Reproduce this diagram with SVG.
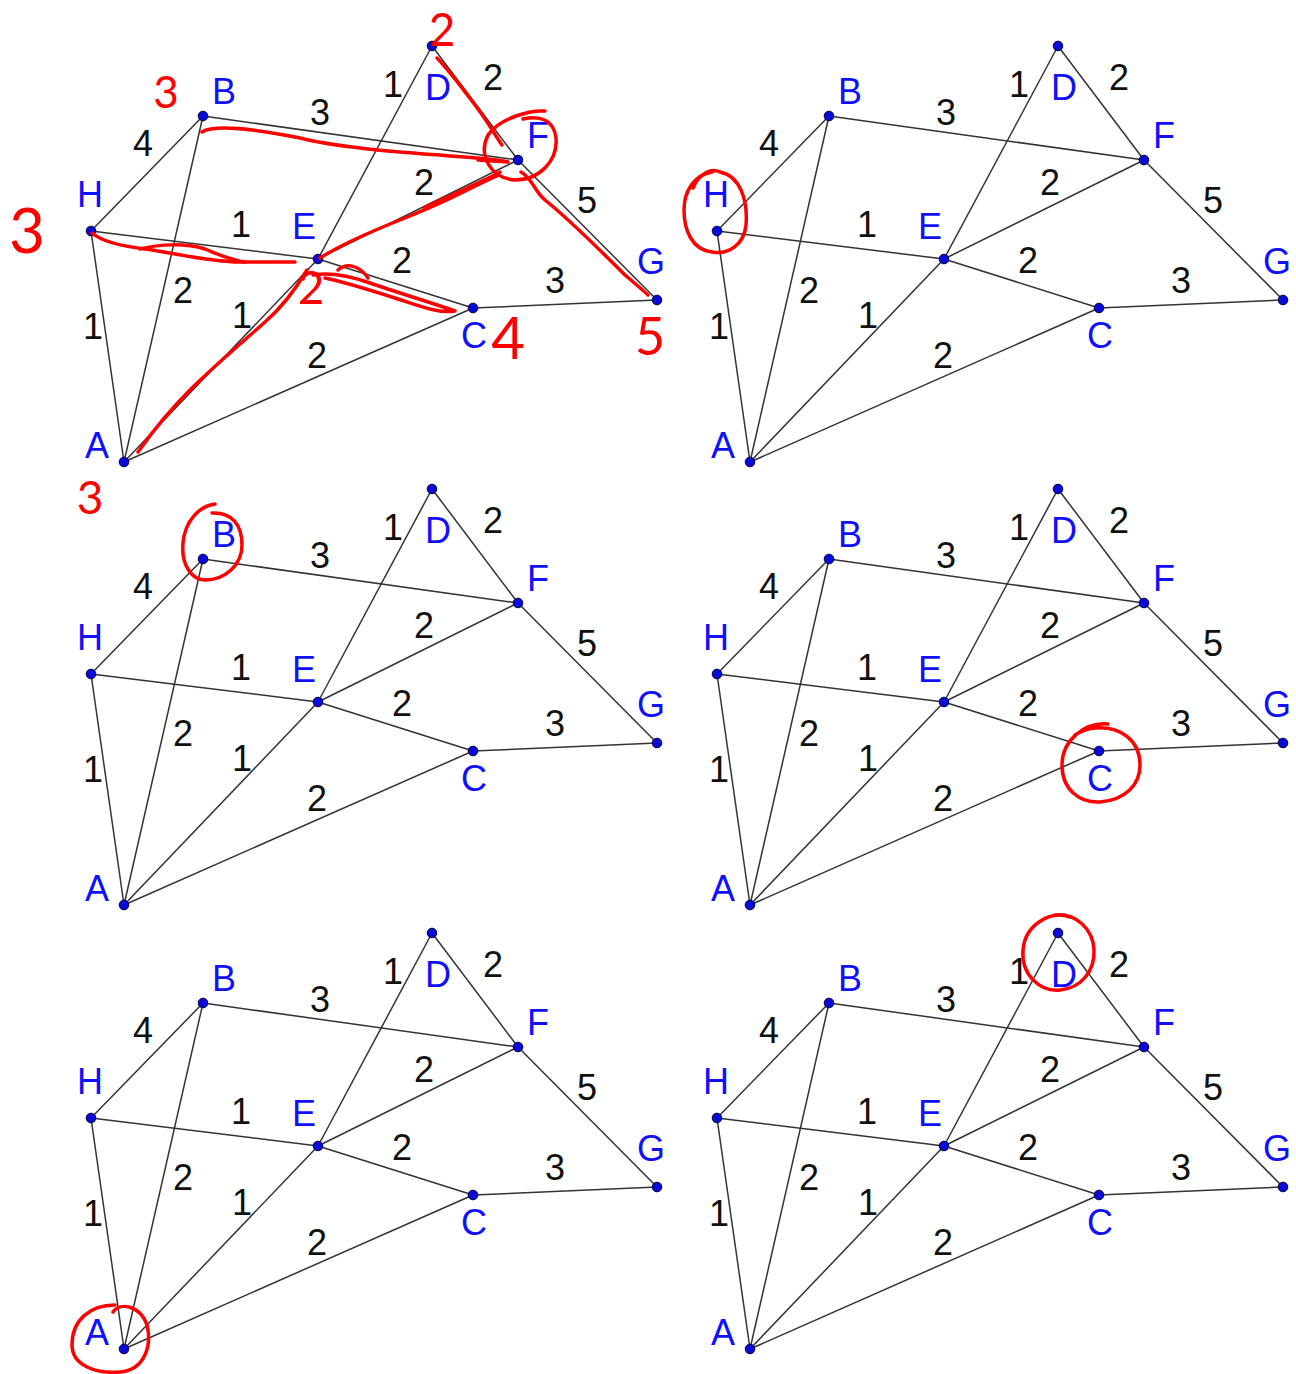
<svg xmlns="http://www.w3.org/2000/svg" width="1296" height="1374" viewBox="0 0 1296 1374">
<style>
.e line{stroke:#333;stroke-width:1.5;fill:none}
.w{font-family:"Liberation Sans",Arial,sans-serif;font-size:36px;fill:#111;text-anchor:middle}
.n circle{fill:#0a0ad8;stroke:#000040;stroke-width:1}
.n text{font-family:"Liberation Sans",Arial,sans-serif;font-size:36px;fill:#1010ff;text-anchor:middle}
.r path{stroke:#f00;stroke-width:3.5;fill:none;stroke-linecap:round;stroke-linejoin:round}
.rt{font-family:Lato,"Open Sans","Liberation Sans",sans-serif;font-weight:400;fill:#f00;text-anchor:middle}
</style>
<rect width="1296" height="1374" fill="#fff"/>

<g id="panel1" transform="translate(0,0)">
<g id="p1-connectors" class="e">
<line x1="91" y1="231" x2="203" y2="116"/><line x1="203" y1="116" x2="518" y2="160"/><line x1="203" y1="116" x2="124" y2="462"/><line x1="91" y1="231" x2="318" y2="259"/><line x1="91" y1="231" x2="124" y2="462"/><line x1="432" y1="46" x2="318" y2="259"/><line x1="318" y1="259" x2="124" y2="462"/><line x1="432" y1="46" x2="518" y2="160"/><line x1="318" y1="259" x2="518" y2="160"/><line x1="318" y1="259" x2="473" y2="308"/><line x1="473" y1="308" x2="657" y2="300"/><line x1="518" y1="160" x2="657" y2="300"/><line x1="124" y1="462" x2="473" y2="308"/>
</g>
<g id="p1-weights"><text class="w" x="143" y="156">4</text><text class="w" x="320" y="125">3</text><text class="w" x="393" y="97">1</text><text class="w" x="493" y="90">2</text><text class="w" x="424" y="195">2</text><text class="w" x="587" y="213">5</text><text class="w" x="241" y="237">1</text><text class="w" x="402" y="273">2</text><text class="w" x="555" y="293">3</text><text class="w" x="183" y="303">2</text><text class="w" x="93" y="339">1</text><text class="w" x="242" y="328">1</text><text class="w" x="317" y="368">2</text></g>
<g id="p1-A" class="n"><circle cx="124" cy="462" r="4.8"/><text x="97" y="458">A</text></g>
<g id="p1-B" class="n"><circle cx="203" cy="116" r="4.8"/><text x="224" y="104">B</text></g>
<g id="p1-C" class="n"><circle cx="473" cy="308" r="4.8"/><text x="474" y="348">C</text></g>
<g id="p1-D" class="n"><circle cx="432" cy="46" r="4.8"/><text x="438" y="100">D</text></g>
<g id="p1-E" class="n"><circle cx="318" cy="259" r="4.8"/><text x="304" y="239">E</text></g>
<g id="p1-F" class="n"><circle cx="518" cy="160" r="4.8"/><text x="538" y="148">F</text></g>
<g id="p1-G" class="n"><circle cx="657" cy="300" r="4.8"/><text x="651" y="274">G</text></g>
<g id="p1-H" class="n"><circle cx="91" cy="231" r="4.8"/><text x="90" y="207">H</text></g>
</g>

<g id="panel2" transform="translate(626,0)">
<g id="p2-connectors" class="e">
<line x1="91" y1="231" x2="203" y2="116"/><line x1="203" y1="116" x2="518" y2="160"/><line x1="203" y1="116" x2="124" y2="462"/><line x1="91" y1="231" x2="318" y2="259"/><line x1="91" y1="231" x2="124" y2="462"/><line x1="432" y1="46" x2="318" y2="259"/><line x1="318" y1="259" x2="124" y2="462"/><line x1="432" y1="46" x2="518" y2="160"/><line x1="318" y1="259" x2="518" y2="160"/><line x1="318" y1="259" x2="473" y2="308"/><line x1="473" y1="308" x2="657" y2="300"/><line x1="518" y1="160" x2="657" y2="300"/><line x1="124" y1="462" x2="473" y2="308"/>
</g>
<g id="p2-weights"><text class="w" x="143" y="156">4</text><text class="w" x="320" y="125">3</text><text class="w" x="393" y="97">1</text><text class="w" x="493" y="90">2</text><text class="w" x="424" y="195">2</text><text class="w" x="587" y="213">5</text><text class="w" x="241" y="237">1</text><text class="w" x="402" y="273">2</text><text class="w" x="555" y="293">3</text><text class="w" x="183" y="303">2</text><text class="w" x="93" y="339">1</text><text class="w" x="242" y="328">1</text><text class="w" x="317" y="368">2</text></g>
<g id="p2-A" class="n"><circle cx="124" cy="462" r="4.8"/><text x="97" y="458">A</text></g>
<g id="p2-B" class="n"><circle cx="203" cy="116" r="4.8"/><text x="224" y="104">B</text></g>
<g id="p2-C" class="n"><circle cx="473" cy="308" r="4.8"/><text x="474" y="348">C</text></g>
<g id="p2-D" class="n"><circle cx="432" cy="46" r="4.8"/><text x="438" y="100">D</text></g>
<g id="p2-E" class="n"><circle cx="318" cy="259" r="4.8"/><text x="304" y="239">E</text></g>
<g id="p2-F" class="n"><circle cx="518" cy="160" r="4.8"/><text x="538" y="148">F</text></g>
<g id="p2-G" class="n"><circle cx="657" cy="300" r="4.8"/><text x="651" y="274">G</text></g>
<g id="p2-H" class="n"><circle cx="91" cy="231" r="4.8"/><text x="90" y="207">H</text></g>
</g>

<g id="panel3" transform="translate(0,443)">
<g id="p3-connectors" class="e">
<line x1="91" y1="231" x2="203" y2="116"/><line x1="203" y1="116" x2="518" y2="160"/><line x1="203" y1="116" x2="124" y2="462"/><line x1="91" y1="231" x2="318" y2="259"/><line x1="91" y1="231" x2="124" y2="462"/><line x1="432" y1="46" x2="318" y2="259"/><line x1="318" y1="259" x2="124" y2="462"/><line x1="432" y1="46" x2="518" y2="160"/><line x1="318" y1="259" x2="518" y2="160"/><line x1="318" y1="259" x2="473" y2="308"/><line x1="473" y1="308" x2="657" y2="300"/><line x1="518" y1="160" x2="657" y2="300"/><line x1="124" y1="462" x2="473" y2="308"/>
</g>
<g id="p3-weights"><text class="w" x="143" y="156">4</text><text class="w" x="320" y="125">3</text><text class="w" x="393" y="97">1</text><text class="w" x="493" y="90">2</text><text class="w" x="424" y="195">2</text><text class="w" x="587" y="213">5</text><text class="w" x="241" y="237">1</text><text class="w" x="402" y="273">2</text><text class="w" x="555" y="293">3</text><text class="w" x="183" y="303">2</text><text class="w" x="93" y="339">1</text><text class="w" x="242" y="328">1</text><text class="w" x="317" y="368">2</text></g>
<g id="p3-A" class="n"><circle cx="124" cy="462" r="4.8"/><text x="97" y="458">A</text></g>
<g id="p3-B" class="n"><circle cx="203" cy="116" r="4.8"/><text x="224" y="104">B</text></g>
<g id="p3-C" class="n"><circle cx="473" cy="308" r="4.8"/><text x="474" y="348">C</text></g>
<g id="p3-D" class="n"><circle cx="432" cy="46" r="4.8"/><text x="438" y="100">D</text></g>
<g id="p3-E" class="n"><circle cx="318" cy="259" r="4.8"/><text x="304" y="239">E</text></g>
<g id="p3-F" class="n"><circle cx="518" cy="160" r="4.8"/><text x="538" y="148">F</text></g>
<g id="p3-G" class="n"><circle cx="657" cy="300" r="4.8"/><text x="651" y="274">G</text></g>
<g id="p3-H" class="n"><circle cx="91" cy="231" r="4.8"/><text x="90" y="207">H</text></g>
</g>

<g id="panel4" transform="translate(626,443)">
<g id="p4-connectors" class="e">
<line x1="91" y1="231" x2="203" y2="116"/><line x1="203" y1="116" x2="518" y2="160"/><line x1="203" y1="116" x2="124" y2="462"/><line x1="91" y1="231" x2="318" y2="259"/><line x1="91" y1="231" x2="124" y2="462"/><line x1="432" y1="46" x2="318" y2="259"/><line x1="318" y1="259" x2="124" y2="462"/><line x1="432" y1="46" x2="518" y2="160"/><line x1="318" y1="259" x2="518" y2="160"/><line x1="318" y1="259" x2="473" y2="308"/><line x1="473" y1="308" x2="657" y2="300"/><line x1="518" y1="160" x2="657" y2="300"/><line x1="124" y1="462" x2="473" y2="308"/>
</g>
<g id="p4-weights"><text class="w" x="143" y="156">4</text><text class="w" x="320" y="125">3</text><text class="w" x="393" y="97">1</text><text class="w" x="493" y="90">2</text><text class="w" x="424" y="195">2</text><text class="w" x="587" y="213">5</text><text class="w" x="241" y="237">1</text><text class="w" x="402" y="273">2</text><text class="w" x="555" y="293">3</text><text class="w" x="183" y="303">2</text><text class="w" x="93" y="339">1</text><text class="w" x="242" y="328">1</text><text class="w" x="317" y="368">2</text></g>
<g id="p4-A" class="n"><circle cx="124" cy="462" r="4.8"/><text x="97" y="458">A</text></g>
<g id="p4-B" class="n"><circle cx="203" cy="116" r="4.8"/><text x="224" y="104">B</text></g>
<g id="p4-C" class="n"><circle cx="473" cy="308" r="4.8"/><text x="474" y="348">C</text></g>
<g id="p4-D" class="n"><circle cx="432" cy="46" r="4.8"/><text x="438" y="100">D</text></g>
<g id="p4-E" class="n"><circle cx="318" cy="259" r="4.8"/><text x="304" y="239">E</text></g>
<g id="p4-F" class="n"><circle cx="518" cy="160" r="4.8"/><text x="538" y="148">F</text></g>
<g id="p4-G" class="n"><circle cx="657" cy="300" r="4.8"/><text x="651" y="274">G</text></g>
<g id="p4-H" class="n"><circle cx="91" cy="231" r="4.8"/><text x="90" y="207">H</text></g>
</g>

<g id="panel5" transform="translate(0,887)">
<g id="p5-connectors" class="e">
<line x1="91" y1="231" x2="203" y2="116"/><line x1="203" y1="116" x2="518" y2="160"/><line x1="203" y1="116" x2="124" y2="462"/><line x1="91" y1="231" x2="318" y2="259"/><line x1="91" y1="231" x2="124" y2="462"/><line x1="432" y1="46" x2="318" y2="259"/><line x1="318" y1="259" x2="124" y2="462"/><line x1="432" y1="46" x2="518" y2="160"/><line x1="318" y1="259" x2="518" y2="160"/><line x1="318" y1="259" x2="473" y2="308"/><line x1="473" y1="308" x2="657" y2="300"/><line x1="518" y1="160" x2="657" y2="300"/><line x1="124" y1="462" x2="473" y2="308"/>
</g>
<g id="p5-weights"><text class="w" x="143" y="156">4</text><text class="w" x="320" y="125">3</text><text class="w" x="393" y="97">1</text><text class="w" x="493" y="90">2</text><text class="w" x="424" y="195">2</text><text class="w" x="587" y="213">5</text><text class="w" x="241" y="237">1</text><text class="w" x="402" y="273">2</text><text class="w" x="555" y="293">3</text><text class="w" x="183" y="303">2</text><text class="w" x="93" y="339">1</text><text class="w" x="242" y="328">1</text><text class="w" x="317" y="368">2</text></g>
<g id="p5-A" class="n"><circle cx="124" cy="462" r="4.8"/><text x="97" y="458">A</text></g>
<g id="p5-B" class="n"><circle cx="203" cy="116" r="4.8"/><text x="224" y="104">B</text></g>
<g id="p5-C" class="n"><circle cx="473" cy="308" r="4.8"/><text x="474" y="348">C</text></g>
<g id="p5-D" class="n"><circle cx="432" cy="46" r="4.8"/><text x="438" y="100">D</text></g>
<g id="p5-E" class="n"><circle cx="318" cy="259" r="4.8"/><text x="304" y="239">E</text></g>
<g id="p5-F" class="n"><circle cx="518" cy="160" r="4.8"/><text x="538" y="148">F</text></g>
<g id="p5-G" class="n"><circle cx="657" cy="300" r="4.8"/><text x="651" y="274">G</text></g>
<g id="p5-H" class="n"><circle cx="91" cy="231" r="4.8"/><text x="90" y="207">H</text></g>
</g>

<g id="panel6" transform="translate(626,887)">
<g id="p6-connectors" class="e">
<line x1="91" y1="231" x2="203" y2="116"/><line x1="203" y1="116" x2="518" y2="160"/><line x1="203" y1="116" x2="124" y2="462"/><line x1="91" y1="231" x2="318" y2="259"/><line x1="91" y1="231" x2="124" y2="462"/><line x1="432" y1="46" x2="318" y2="259"/><line x1="318" y1="259" x2="124" y2="462"/><line x1="432" y1="46" x2="518" y2="160"/><line x1="318" y1="259" x2="518" y2="160"/><line x1="318" y1="259" x2="473" y2="308"/><line x1="473" y1="308" x2="657" y2="300"/><line x1="518" y1="160" x2="657" y2="300"/><line x1="124" y1="462" x2="473" y2="308"/>
</g>
<g id="p6-weights"><text class="w" x="143" y="156">4</text><text class="w" x="320" y="125">3</text><text class="w" x="393" y="97">1</text><text class="w" x="493" y="90">2</text><text class="w" x="424" y="195">2</text><text class="w" x="587" y="213">5</text><text class="w" x="241" y="237">1</text><text class="w" x="402" y="273">2</text><text class="w" x="555" y="293">3</text><text class="w" x="183" y="303">2</text><text class="w" x="93" y="339">1</text><text class="w" x="242" y="328">1</text><text class="w" x="317" y="368">2</text></g>
<g id="p6-A" class="n"><circle cx="124" cy="462" r="4.8"/><text x="97" y="458">A</text></g>
<g id="p6-B" class="n"><circle cx="203" cy="116" r="4.8"/><text x="224" y="104">B</text></g>
<g id="p6-C" class="n"><circle cx="473" cy="308" r="4.8"/><text x="474" y="348">C</text></g>
<g id="p6-D" class="n"><circle cx="432" cy="46" r="4.8"/><text x="438" y="100">D</text></g>
<g id="p6-E" class="n"><circle cx="318" cy="259" r="4.8"/><text x="304" y="239">E</text></g>
<g id="p6-F" class="n"><circle cx="518" cy="160" r="4.8"/><text x="538" y="148">F</text></g>
<g id="p6-G" class="n"><circle cx="657" cy="300" r="4.8"/><text x="651" y="274">G</text></g>
<g id="p6-H" class="n"><circle cx="91" cy="231" r="4.8"/><text x="90" y="207">H</text></g>
</g>

<g id="annotations" class="r">
<path d="M202,132 C215,124 260,130 300,138 C340,148 400,152 450,156 C480,158 500,160 508,162 L478,160"/>
<path d="M437,58 C445,66 460,85 475,105 C488,122 495,135 502,145"/>
<path d="M545,111 C530,110 500,118 488,135 C478,155 490,178 515,180 C540,180 558,160 556,138 C554,120 540,115 523,119"/>
<path d="M521,172 C532,178 535,192 545,200 C570,220 600,250 625,275 C638,286 645,292 648,295"/>
<path d="M320,258 C340,245 370,232 400,220 C430,208 470,190 500,172"/>
<path d="M425,208 C450,197 475,185 497,175" style="stroke-width:5"/>
<path d="M92,233 C100,240 120,246 145,249 C175,253 210,262 240,262 L295,262"/>
<path d="M140,249 C160,244 185,243 205,249 C220,255 230,260 245,262"/>
<path d="M313,275 C330,272 350,276 370,283 C395,292 430,302 455,311 C440,314 420,306 395,298 C370,290 345,282 325,278"/>
<path d="M338,270 C345,264 358,263 368,278"/>
<path d="M138,452 C150,435 170,410 190,390 C215,365 245,340 265,322 C285,305 298,285 307,270"/>
<path d="M693,188 C700,172 712,168 720,172 C740,176 748,200 746,225 C744,245 728,255 712,252 C692,250 684,230 684,210 C684,190 695,175 712,172"/>
<path d="M215,504 C200,506 185,520 183,543 C181,565 192,580 205,580 C225,580 242,565 242,545 C242,525 232,512 212,513"/>
<path d="M1108,724 C1085,722 1062,740 1062,765 C1062,790 1080,803 1100,802 C1125,800 1140,785 1140,765 C1140,740 1120,726 1095,728 C1085,729 1078,733 1075,735"/>
<path d="M113,1312 C120,1302 140,1305 147,1325 C152,1345 145,1370 120,1372 C95,1374 72,1365 72,1345 C72,1320 90,1305 115,1305"/>
<path d="M1070,917 C1050,910 1025,925 1023,950 C1021,975 1040,992 1060,990 C1082,988 1095,970 1094,950 C1093,928 1075,913 1055,915"/>
<text class="rt" x="442" y="46" font-size="46">2</text>
<text class="rt" x="166" y="108" font-size="44">3</text>
<text class="rt" x="27" y="253" font-size="62">3</text>
<text class="rt" x="90" y="514" font-size="46">3</text>
<text class="rt" x="311" y="304" font-size="46">2</text>
<text class="rt" x="508" y="359" font-size="58">4</text>
<text class="rt" x="650" y="355" font-size="52">5</text>
</g>
</svg>
